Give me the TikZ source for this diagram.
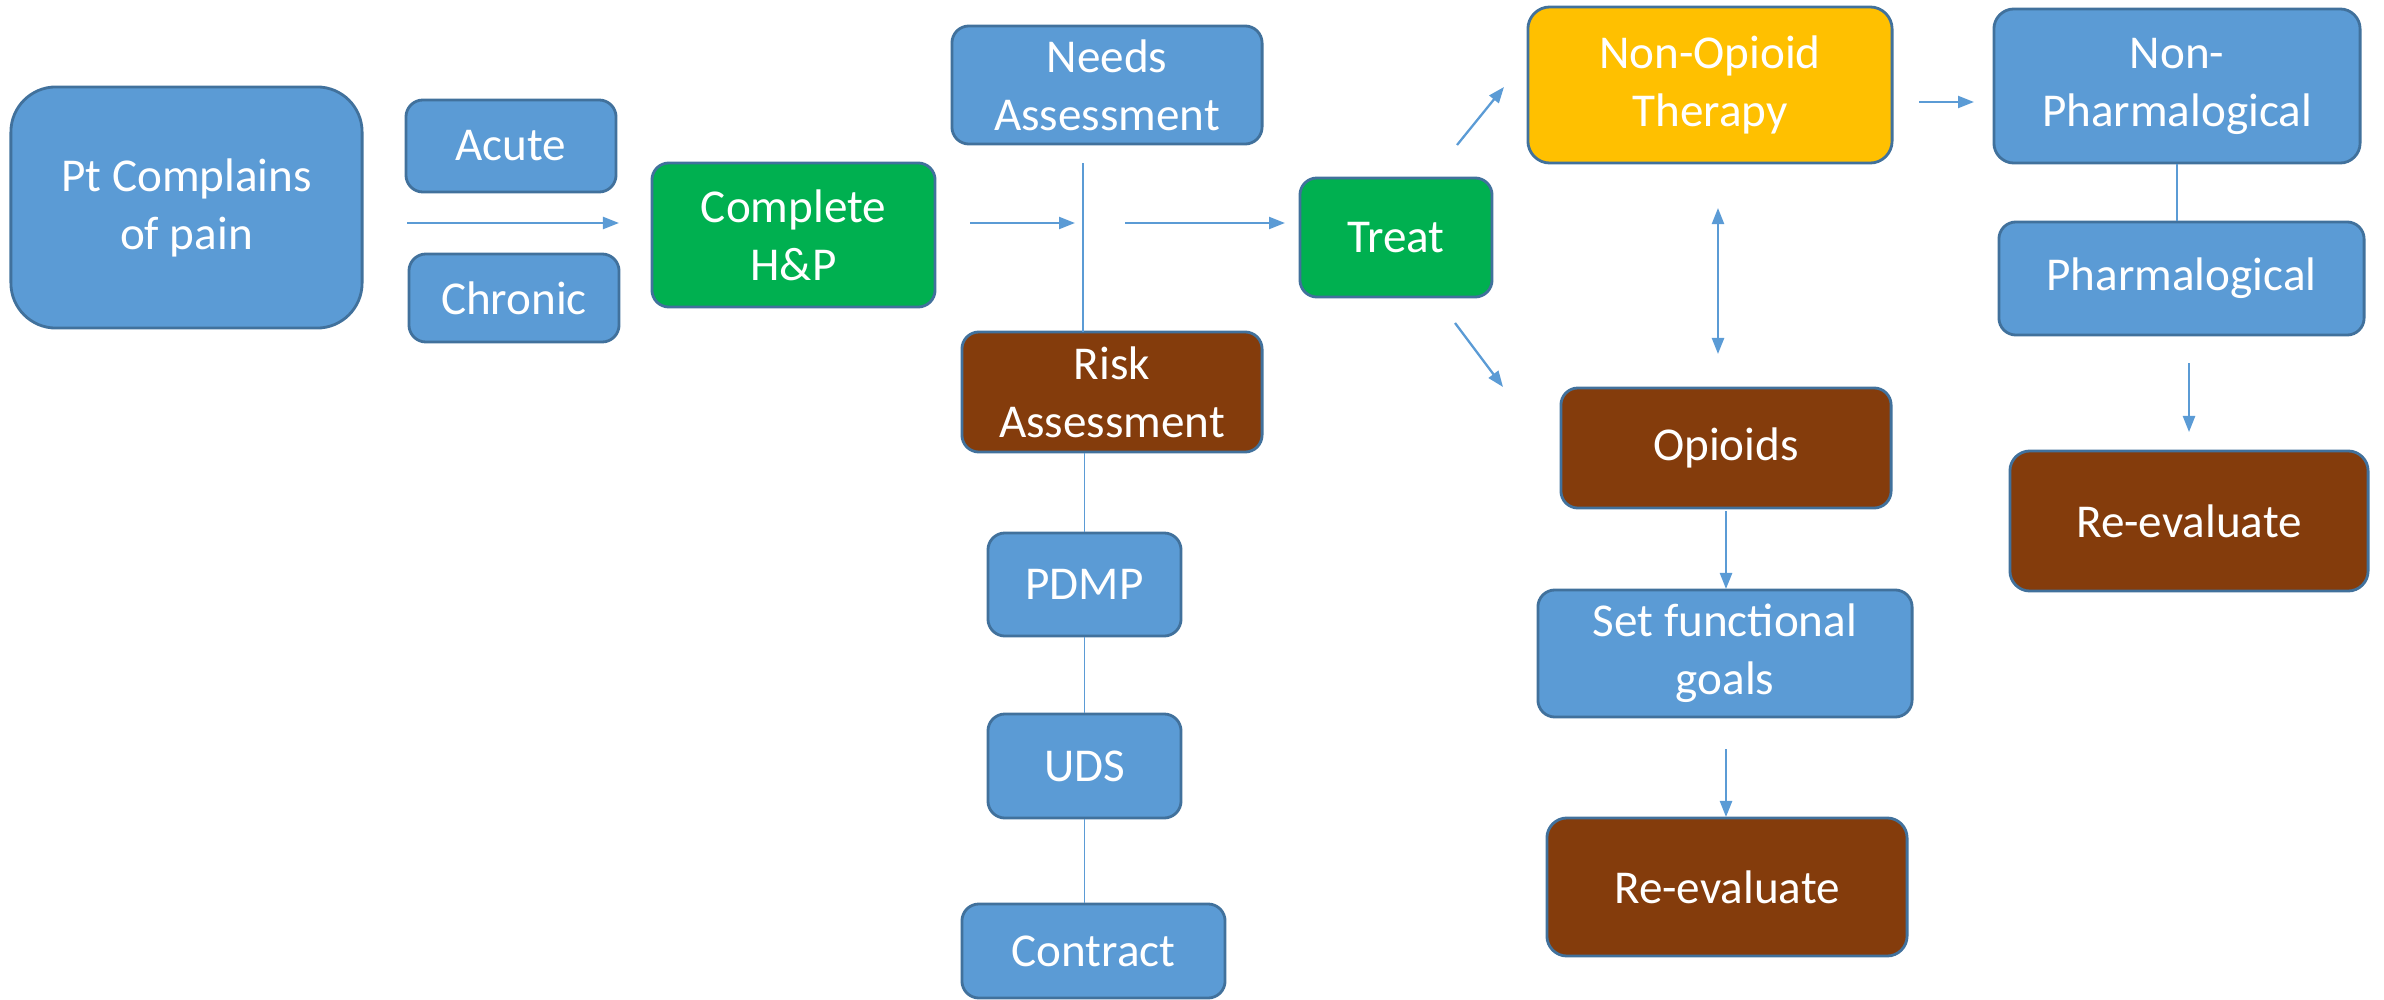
\documentclass[tikz,border=0pt]{standalone}
\usepackage{fontspec}
\setmainfont{Carlito}
\usetikzlibrary{arrows.meta}
\definecolor{boxblue}{HTML}{5B9BD5}
\definecolor{edgeblue}{HTML}{41719C}
\definecolor{boxgreen}{HTML}{00B050}
\definecolor{boxbrown}{HTML}{843C0C}
\definecolor{boxyellow}{HTML}{FFC000}
\tikzset{
  card/.style={draw=edgeblue, line width=0.8pt, rounded corners=0.17cm,
    text=white, align=center, inner sep=0pt,
    font=\fontsize{13.4pt}{16.5pt}\selectfont},
  bluecard/.style={card, fill=boxblue},
  greencard/.style={card, fill=boxgreen},
  browncard/.style={card, fill=boxbrown},
  yellowcard/.style={card, fill=boxyellow},
  sz/.style 2 args={minimum width=#1cm, minimum height=#2cm},
  flow/.style={draw=boxblue, line width=0.65pt,
    -{Triangle[length=0.16cm,width=0.12cm]}},
  twoway/.style={draw=boxblue, line width=0.65pt,
    {Triangle[length=0.16cm,width=0.12cm]}-{Triangle[length=0.16cm,width=0.12cm]}},
  link/.style={draw=boxblue, line width=0.5pt}
}
\begin{document}
\begin{tikzpicture}[x=0.01cm, y=-0.01cm]
\useasboundingbox (0,0) rectangle (2384,1000);

% boxes
\node[bluecard, sz={3.51}{2.41}, rounded corners=0.45cm] (pt) at (186.5,207.5) {Pt Complains\\of pain};
\node[bluecard, sz={2.10}{0.92}] (acute) at (511,146) {Acute};
\node[bluecard, sz={2.10}{0.88}] (chronic) at (514,298) {Chronic};
\node[greencard, sz={2.83}{1.44}] (hp) at (793.5,235) {Complete\\H\&P};
\node[bluecard, sz={3.10}{1.18}] (needs) at (1107,85) {Needs\\Assessment};
\node[browncard, sz={3.00}{1.20}] (risk) at (1112,392) {Risk\\Assessment};
\node[bluecard, sz={1.93}{1.03}] (pdmp) at (1084.5,584.5) {PDMP};
\node[bluecard, sz={1.93}{1.04}] (uds) at (1084.5,766) {UDS};
\node[bluecard, sz={2.63}{0.94}] (contract) at (1093.5,951) {Contract};
\node[greencard, sz={1.92}{1.19}] (treat) at (1396,237.5) {Treat};
\node[yellowcard, sz={3.64}{1.56}, rounded corners=0.22cm] (nonop) at (1710,85) {Non-Opioid\\Therapy};
\node[browncard, sz={3.30}{1.20}] (opioids) at (1726,448) {Opioids};
\node[bluecard, sz={3.74}{1.27}] (goals) at (1725,653.5) {Set functional\\goals};
\node[browncard, sz={3.60}{1.38}, rounded corners=0.2cm] (reevalA) at (1727,887) {Re-evaluate};
\node[bluecard, sz={3.66}{1.54}, rounded corners=0.2cm] (nonpharm) at (2177,86) {Non-\\Pharmalogical};
\node[bluecard, sz={3.65}{1.13}] (pharm) at (2181.5,278.5) {Pharmalogical};
\node[browncard, sz={3.58}{1.40}, rounded corners=0.2cm] (reevalB) at (2189,521) {Re-evaluate};

% free ends of the connectors
\coordinate (typeS) at (407,223);
\coordinate (typeE) at (619,223);
\coordinate (hpS) at (970,223);
\coordinate (hpE) at (1075,223);
\coordinate (splitTop) at (1083,163);
\coordinate (splitBot) at (1083,332);
\coordinate (toTreatS) at (1125,223);
\coordinate (toTreatE) at (1285,223);
\coordinate (upS) at (1457,145);
\coordinate (upE) at (1504,87);
\coordinate (downS) at (1455,323);
\coordinate (downE) at (1503,387);
\coordinate (bothT) at (1718,208);
\coordinate (bothB) at (1718,354);
\coordinate (opS) at (1726,511);
\coordinate (opE) at (1726,589);
\coordinate (goS) at (1726,749);
\coordinate (goE) at (1726,817);
\coordinate (npS) at (1919,102);
\coordinate (npE) at (1974,102);
\coordinate (phS) at (2189,363);
\coordinate (phE) at (2189,432);

% connectors
\draw[flow] (typeS) -- (typeE);
\draw[flow] (hpS) -- (hpE);
\draw[link] (splitTop) -- (splitBot);
\draw[flow] (toTreatS) -- (toTreatE);
\draw[link] (risk.south -| pdmp.north) -- (pdmp.north);
\draw[link] (pdmp) -- (uds);
\draw[link] (uds.south) -- (uds.south |- contract.north);
\draw[flow] (upS) -- (upE);
\draw[flow] (downS) -- (downE);
\draw[twoway] (bothT) -- (bothB);
\draw[flow] (opS) -- (opE);
\draw[flow] (goS) -- (goE);
\draw[flow] (npS) -- (npE);
\draw[link] (nonpharm.south) -- (nonpharm.south |- pharm.north);
\draw[flow] (phS) -- (phE);
\end{tikzpicture}
\end{document}
